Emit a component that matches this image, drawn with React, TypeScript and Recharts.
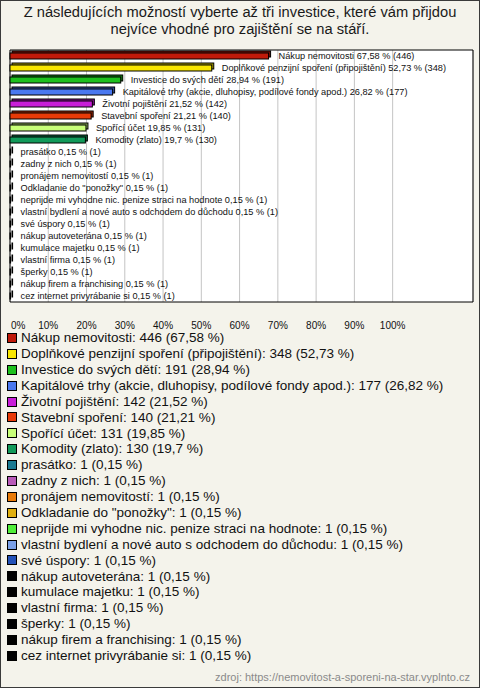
import React from "react";
import {
  BarChart,
  Bar,
  XAxis,
  YAxis,
  CartesianGrid,
  Cell,
  LabelList,
  ReferenceArea,
} from "recharts";

const names = [
  "Nákup nemovitosti",
  "Doplňkové penzijní spoření (připojištění)",
  "Investice do svých dětí",
  "Kapitálové trhy (akcie, dluhopisy, podílové fondy apod.)",
  "Životní pojištění",
  "Stavební spoření",
  "Spořící účet",
  "Komodity (zlato)",
  "prasátko",
  "zadny z nich",
  "pronájem nemovitostí",
  'Odkladanie do "ponožky"',
  "neprijde mi vyhodne nic. penize straci na hodnote",
  "vlastní bydlení a nové auto s odchodem do důchodu",
  "své úspory",
  "nákup autoveterána",
  "kumulace majetku",
  "vlastní firma",
  "šperky",
  "nákup firem a franchising",
  "cez internet privyrábanie si",
];

const percents = [
  67.58, 52.73, 28.94, 26.82, 21.52, 21.21, 19.85, 19.7, 0.15, 0.15, 0.15,
  0.15, 0.15, 0.15, 0.15, 0.15, 0.15, 0.15, 0.15, 0.15, 0.15,
];

const counts = [
  446, 348, 191, 177, 142, 140, 131, 130, 1, 1, 1, 1, 1, 1, 1, 1, 1, 1, 1, 1, 1,
];

const colors = [
  "#c01a0a",
  "#f8e600",
  "#1ec01e",
  "#4a78f0",
  "#c81ed8",
  "#e83a08",
  "#c8ff78",
  "#129a5a",
  "#1a7a92",
  "#b85ab8",
  "#e87a08",
  "#e0b010",
  "#50ee3a",
  "#7aa0e8",
  "#2452b8",
  "#000000",
  "#000000",
  "#000000",
  "#000000",
  "#000000",
  "#000000",
];

const xTicks = [0, 10, 20, 30, 40, 50, 60, 70, 80, 90, 100];

const FONT = '"Liberation Sans", Arial, sans-serif';
const fmt = (v: number) => String(v).replace(".", ",");

const data = names.map((name, i) => ({
  name,
  value: percents[i],
  count: counts[i],
}));

// bar with a little 3D top/right face like the original
function Bar3D(props: any) {
  const { x, y, width, height, fill } = props;
  const w = Math.max(width, 0.6);
  const d = 2;
  return (
    <g>
      <rect x={x + d} y={y - d} width={w} height={height} fill={fill} stroke="#000" strokeWidth={1} />
      <rect x={x + d} y={y - d} width={w} height={height} fill="#000" fillOpacity={0.35} />
      <rect x={x} y={y} width={w} height={height} fill={fill} stroke="#000" strokeWidth={1} />
    </g>
  );
}

function BarText(props: any) {
  const { x, y, width, height, index } = props;
  return (
    <text
      x={x + width + 10}
      y={y + height / 2}
      dominantBaseline="central"
      fontSize={9.2}
      fontFamily={FONT}
      fill="#111"
    >
      {`${names[index]} ${fmt(percents[index])} % (${counts[index]})`}
    </text>
  );
}

function PctTick(props: any) {
  const { x, y, payload } = props;
  const first = payload.value === 0;
  return (
    <text
      x={first ? x + 1 : x}
      y={y}
      dy={18.5}
      textAnchor={first ? "start" : "middle"}
      fontSize={10}
      fontFamily={FONT}
      fill="#111"
    >
      {payload.value}%
    </text>
  );
}

export default function App() {
  return (
    <div
      style={{
        position: "absolute",
        left: 0,
        top: 0,
        width: 480,
        height: 688,
        boxSizing: "border-box",
        border: "1px solid #3a3a3a",
        background: "#f4f3eb",
        fontFamily: FONT,
        overflow: "hidden",
      }}
    >
      <div
        style={{
          position: "absolute",
          left: 0,
          top: 3,
          width: 478,
          textAlign: "center",
          fontSize: 14.7,
          lineHeight: "17px",
          color: "#1a1a1a",
        }}
      >
        Z následujících možností vyberte až tři investice, které vám přijdou
        <br />
        nejvíce vhodné pro zajištění se na stáří.
      </div>

      <div style={{ position: "absolute", left: -1, top: -1 }}>
        <BarChart
          width={480}
          height={345}
          data={data}
          layout="vertical"
          margin={{ top: 50, right: 7, bottom: 0, left: 10 }}
          barCategoryGap={0}
        >
          <CartesianGrid
            horizontal={false}
            stroke="#c4c4c4"
            fill="#ffffff"
            fillOpacity={1}
          />
          <XAxis
            type="number"
            domain={[0, 121]}
            ticks={xTicks}
            axisLine={false}
            tickLine={false}
            height={43}
            tick={<PctTick />}
            interval={0}
          />
          <YAxis type="category" dataKey="name" hide />
          <ReferenceArea
            x1={0}
            x2={121}
            fill="none"
            stroke="#000"
            strokeWidth={1}
            ifOverflow="extendDomain"
          />
          <Bar
            dataKey="value"
            barSize={6}
            shape={<Bar3D />}
            isAnimationActive={false}
          >
            {data.map((d, i) => (
              <Cell key={d.name} fill={colors[i]} />
            ))}
            <LabelList dataKey="value" content={<BarText />} />
          </Bar>
        </BarChart>
      </div>

      <div style={{ position: "absolute", left: 6, top: 329 }}>
        {names.map((n, i) => (
          <div
            key={n}
            style={{
              height: 15.9,
              display: "flex",
              alignItems: "center",
              fontSize: 13.5,
              color: "#111",
              whiteSpace: "nowrap",
            }}
          >
            <span
              style={{
                display: "inline-block",
                width: 8,
                height: 8,
                background: colors[i],
                border: "1px solid #000",
                marginRight: 4,
              }}
            />
            <span style={{ lineHeight: 1 }}>
              {`${n}: ${counts[i]} (${fmt(percents[i])} %)`}
            </span>
          </div>
        ))}
      </div>

      <div
        style={{
          position: "absolute",
          right: 9,
          top: 670,
          fontSize: 11,
          color: "#8a8a8a",
        }}
      >
        zdroj: https://nemovitost-a-sporeni-na-star.vyplnto.cz
      </div>
    </div>
  );
}
